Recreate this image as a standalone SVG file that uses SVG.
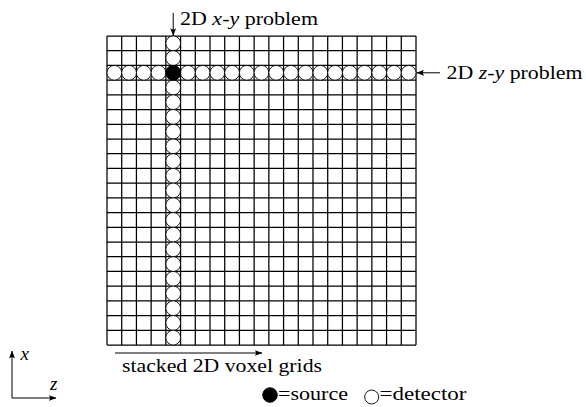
<svg xmlns="http://www.w3.org/2000/svg" xmlns:xlink="http://www.w3.org/1999/xlink" width="586" height="407" viewBox="0 0 586 407">
<style>
.grid{fill:none;stroke:#000;stroke-width:1.25}
.det{fill:#fff;stroke:#000;stroke-width:0.9}
.src{fill:#000;stroke:#000;stroke-width:0.9}
.arr{fill:none;stroke:#000;stroke-width:1}
.lbl{font-family:'Liberation Serif','Times New Roman',serif;font-size:19px;fill:#000}
.it{font-style:italic}
</style>
<defs>
<marker id="ah" viewBox="0 0 8 6" refX="7.5" refY="3" markerWidth="8" markerHeight="6" markerUnits="userSpaceOnUse" orient="auto-start-reverse">
<path d="M0,0 Q3,3 0,6 L8,3 Z" fill="#000"/>
</marker>
<circle id="d" r="7.4" class="det"/>
</defs>
<rect width="586" height="407" fill="#fff"/>
<g id="grid">
<path class="grid" d="M107,36V345M121.714,36V345M136.429,36V345M151.143,36V345M165.857,36V345M180.571,36V345M195.286,36V345M210,36V345M224.714,36V345M239.429,36V345M254.143,36V345M268.857,36V345M283.571,36V345M298.286,36V345M313,36V345M327.714,36V345M342.429,36V345M357.143,36V345M371.857,36V345M386.571,36V345M401.286,36V345M416,36V345M107,36H416M107,50.714H416M107,65.429H416M107,80.143H416M107,94.857H416M107,109.571H416M107,124.286H416M107,139H416M107,153.714H416M107,168.429H416M107,183.143H416M107,197.857H416M107,212.571H416M107,227.286H416M107,242H416M107,256.714H416M107,271.429H416M107,286.143H416M107,300.857H416M107,315.571H416M107,330.286H416M107,345H416"/>
</g>
<g id="detectors-column">
<use xlink:href="#d" x="173.214" y="43.357"/>
<use xlink:href="#d" x="173.214" y="58.071"/>
<use xlink:href="#d" x="173.214" y="87.5"/>
<use xlink:href="#d" x="173.214" y="102.214"/>
<use xlink:href="#d" x="173.214" y="116.929"/>
<use xlink:href="#d" x="173.214" y="131.643"/>
<use xlink:href="#d" x="173.214" y="146.357"/>
<use xlink:href="#d" x="173.214" y="161.071"/>
<use xlink:href="#d" x="173.214" y="175.786"/>
<use xlink:href="#d" x="173.214" y="190.5"/>
<use xlink:href="#d" x="173.214" y="205.214"/>
<use xlink:href="#d" x="173.214" y="219.929"/>
<use xlink:href="#d" x="173.214" y="234.643"/>
<use xlink:href="#d" x="173.214" y="249.357"/>
<use xlink:href="#d" x="173.214" y="264.071"/>
<use xlink:href="#d" x="173.214" y="278.786"/>
<use xlink:href="#d" x="173.214" y="293.5"/>
<use xlink:href="#d" x="173.214" y="308.214"/>
<use xlink:href="#d" x="173.214" y="322.929"/>
<use xlink:href="#d" x="173.214" y="337.643"/>
</g>
<g id="detectors-row">
<use xlink:href="#d" x="114.357" y="72.786"/>
<use xlink:href="#d" x="129.071" y="72.786"/>
<use xlink:href="#d" x="143.786" y="72.786"/>
<use xlink:href="#d" x="158.5" y="72.786"/>
<use xlink:href="#d" x="187.929" y="72.786"/>
<use xlink:href="#d" x="202.643" y="72.786"/>
<use xlink:href="#d" x="217.357" y="72.786"/>
<use xlink:href="#d" x="232.071" y="72.786"/>
<use xlink:href="#d" x="246.786" y="72.786"/>
<use xlink:href="#d" x="261.5" y="72.786"/>
<use xlink:href="#d" x="276.214" y="72.786"/>
<use xlink:href="#d" x="290.929" y="72.786"/>
<use xlink:href="#d" x="305.643" y="72.786"/>
<use xlink:href="#d" x="320.357" y="72.786"/>
<use xlink:href="#d" x="335.071" y="72.786"/>
<use xlink:href="#d" x="349.786" y="72.786"/>
<use xlink:href="#d" x="364.5" y="72.786"/>
<use xlink:href="#d" x="379.214" y="72.786"/>
<use xlink:href="#d" x="393.929" y="72.786"/>
<use xlink:href="#d" x="408.643" y="72.786"/>
</g>
<g id="source">
<circle class="src" cx="173.214" cy="72.786" r="7.5"/>
</g>
<g id="connectors">
<line class="arr" x1="173.214" y1="13" x2="173.214" y2="35.5" marker-end="url(#ah)"/>
<line class="arr" x1="440" y1="72.786" x2="416.8" y2="72.786" marker-end="url(#ah)"/>
<line class="arr" x1="115" y1="353" x2="262" y2="353" marker-end="url(#ah)"/>
<path class="arr" d="M12,351V398H56" marker-start="url(#ah)" marker-end="url(#ah)"/>
</g>
<g id="labels" class="lbl">
<text x="180" y="25" textLength="138" lengthAdjust="spacingAndGlyphs">2D <tspan class="it">x</tspan>-<tspan class="it">y</tspan> problem</text>
<text x="446.5" y="78.5" textLength="136" lengthAdjust="spacingAndGlyphs">2D <tspan class="it">z</tspan>-<tspan class="it">y</tspan> problem</text>
<text x="122" y="371.5" textLength="200" lengthAdjust="spacingAndGlyphs">stacked 2D voxel grids</text>
<text class="it" x="20.5" y="360">x</text>
<text class="it" x="50" y="390">z</text>
</g>
<g id="legend" class="lbl">
<circle class="src" cx="270" cy="395" r="7.3"/>
<text x="278" y="399.5" textLength="70" lengthAdjust="spacingAndGlyphs">=source</text>
<circle class="det" cx="371.7" cy="397" r="7"/>
<text x="379.5" y="399.5" textLength="87" lengthAdjust="spacingAndGlyphs">=detector</text>
</g>
</svg>
